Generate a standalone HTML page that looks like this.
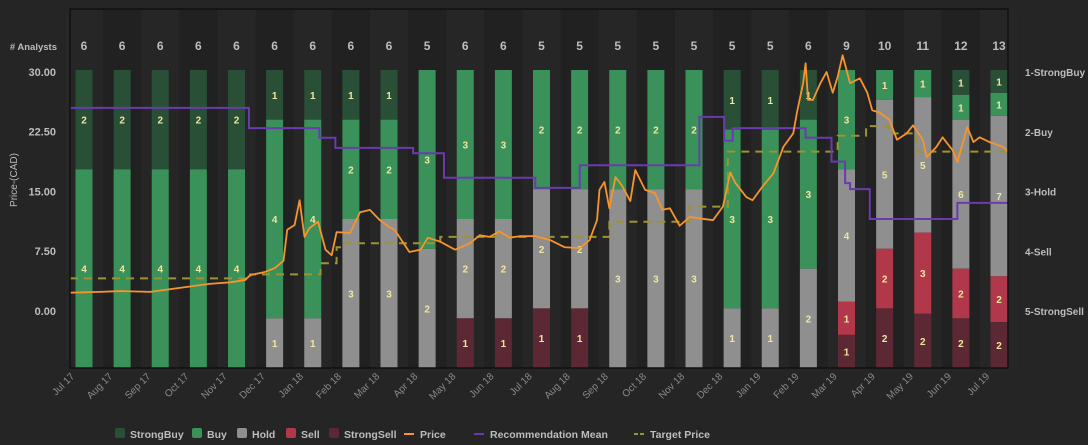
<!DOCTYPE html>
<html><head><meta charset="utf-8"><style>
html,body{margin:0;padding:0;background:#252525;}
svg{display:block;font-family:"Liberation Sans",sans-serif;}
</style></head><body>
<svg id="chart" width="1088" height="445" viewBox="0 0 1088 445"></svg>
<script>
const categories=["Jul 17","Aug 17","Sep 17","Oct 17","Nov 17","Dec 17","Jan 18","Feb 18","Mar 18","Apr 18","May 18","Jun 18","Jul 18","Aug 18","Sep 18","Oct 18","Nov 18","Dec 18","Jan 19","Feb 19","Mar 19","Apr 19","May 19","Jun 19","Jul 19"];
const strongBuy=[2,2,2,2,2,1,1,1,1,0,0,0,0,0,0,0,0,1,1,1,0,0,0,1,1];
const buy=[4,4,4,4,4,4,4,2,2,3,3,3,2,2,2,2,2,3,3,3,3,1,1,1,1];
const hold=[0,0,0,0,0,1,1,3,3,2,2,2,2,2,3,3,3,1,1,2,4,5,5,6,7];
const sell=[0,0,0,0,0,0,0,0,0,0,0,0,0,0,0,0,0,0,0,0,1,2,3,2,2];
const strongSell=[0,0,0,0,0,0,0,0,0,0,1,1,1,1,0,0,0,0,0,0,1,2,2,2,2];
const priceTicks=["0.00","7.50","15.00","22.50","30.00"];
const recTicks=["1-StrongBuy","2-Buy","3-Hold","4-Sell","5-StrongSell"];
const priceDays=[0,24,41,65,89,113,130,142,146,158,166,173,176,182,186,190,194,201,207,212,216,227,235,243,251,259,263,275,284,290,300,312,324,332,340,348,356,365,377,389,401,413,421,427,429,433,437,442,447,454,458,466,474,480,486,494,502,521,529,535,539,548,553,561,570,578,586,589,594,596,598,602,608,613,618,622,626,632,640,646,650,656,664,670,678,683,691,694,702,707,715,719,727,732,737,745,756,760];
const priceVals=[2.3,2.4,2.5,2.4,2.9,3.4,3.6,3.9,4.5,4.9,5.4,6.3,10.2,10.8,13.9,9.3,10.4,11.2,7.7,7.0,9.9,9.8,12.4,12.7,11.4,10.5,10.2,7.4,7.7,9.2,8.7,7.7,8.5,9.5,9.3,10.0,9.2,9.4,9.4,8.9,8.0,7.9,8.9,11.4,15.2,16.2,12.9,16.8,15.8,13.8,17.7,15.2,14.8,12.7,12.9,10.7,11.8,11.4,13.1,17.4,16.1,14.3,13.9,15.6,17.3,20.6,22.3,24.9,28.6,31.1,26.5,26.5,28.6,30.0,27.4,29.4,32.1,28.6,29.2,27.4,25.2,24.9,24.0,21.5,22.3,23.3,21.5,19.3,20.6,21.8,20.2,18.7,23.1,21.2,21.8,21.2,20.6,20.0];
const targetDays=[0,146,203,216,222,300,437,502,533,622,645,663,686,760];
const targetVals=[4.1,4.6,6.0,8.0,8.5,9.3,11.2,13.1,20.0,22.0,23.2,22.3,20.0,20.0];
const recDays=[0,145,202,215,278,303,377,413,510,530,537,596,617,628,632,648,719,760];
const recVals=[1.60,1.94,2.10,2.27,2.36,2.77,2.94,2.56,1.75,2.15,1.94,2.10,2.50,2.86,2.96,3.46,3.19,3.19];

const NS="http://www.w3.org/2000/svg";
const svg=document.getElementById('chart');
function mk(tag,attrs,parent){const e=document.createElementNS(NS,tag);for(const k in attrs)e.setAttribute(k,attrs[k]);(parent||svg).appendChild(e);return e;}
const PL=70,PR=1008,PT=9,PB=368,BARTOP=70;
const n=categories.length;
const slot=(999-84)/(n-1);
const xBar=i=>84+i*slot;
const xDay=d=>PL+d*(PR-PL)/760;
const yPrice=p=>311-p*7.967;
const yRec=r=>72+(r-1)*59.75;

const plotBg=mk('rect',{x:PL,y:PT,width:PR-PL,height:PB-PT,fill:'#212121'});


for(let i=0;i<n;i++){
  const b=mk('rect',{x:xBar(i)-slot/2,y:PT,width:slot,height:PB-PT,fill:i%2?'#212121':'#262626'});
  
  
}
const series=[[strongBuy,'#2a4f37','strongbuy'],[buy,'#3a915a','buy'],[hold,'#8f8f8f','hold'],[sell,'#b0384a','sell'],[strongSell,'#5c2833','strongsell']];
for(let i=0;i<n;i++){
  const tot=series.reduce((s,a)=>s+a[0][i],0);
  let y=BARTOP;
  const cnt=mk('text',{x:xBar(i),y:50,'text-anchor':'middle','font-size':12,'font-weight':'bold',fill:'#bdbdbd'});
  cnt.textContent=tot;
  
  
  for(const [arr,col,nm] of series){
    const v=arr[i];if(!v)continue;
    const h=v/tot*(PB-BARTOP);
    const r=mk('rect',{x:xBar(i)-8.5,y:y,width:17,height:h,fill:col});
    
    
    const t=mk('text',{x:xBar(i),y:y+h/2+4,'text-anchor':'middle','font-size':10,'font-weight':'bold',fill:'#efe6a0'});
    t.textContent=v;
    
    
    y+=h;
  }
}
function stepPath(ds,vs,yf){let d='';for(let i=0;i<ds.length;i++){const x=xDay(ds[i]),y=yf(vs[i]);if(i===0)d+='M'+x+' '+y;else{d+='H'+x+'V'+y;}}return d;}
const tp=mk('path',{d:stepPath(targetDays,targetVals,yPrice),fill:'none',stroke:'#9c9430','stroke-width':2,'stroke-dasharray':'8 6'});


const rp=mk('path',{d:stepPath(recDays,recVals,yRec),fill:'none',stroke:'#6a3bb0','stroke-width':2});


const pp=mk('path',{d:priceDays.map((d,i)=>(i?'L':'M')+xDay(d)+' '+yPrice(priceVals[i])).join(''),fill:'none',stroke:'#f7942d','stroke-width':1.8,'stroke-linejoin':'round'});


const border=mk('rect',{x:PL,y:PT,width:PR-PL,height:PB-PT,fill:'none',stroke:'#111','stroke-width':1.5});



const ah=mk('text',{x:57,y:50,'text-anchor':'end','font-size':9.5,'font-weight':'bold',fill:'#bdbdbd'});
ah.textContent='# Analysts';


priceTicks.forEach((t,i)=>{
  const e=mk('text',{x:56,y:yPrice(i*7.5)+4,'text-anchor':'end','font-size':11,'font-weight':'bold',fill:'#bdbdbd'});
  e.textContent=t;
  
  
});
recTicks.forEach((t,i)=>{
  const e=mk('text',{x:1025,y:yRec(i+1)+4,'font-size':10,'font-weight':'bold',fill:'#bdbdbd'});
  e.textContent=t;
  
  
});
const yt=mk('text',{x:17,y:180,transform:'rotate(-90 17 180)','text-anchor':'middle','font-size':10,fill:'#bdbdbd'});
yt.textContent='Price-(CAD)';


categories.forEach((c,i)=>{
  const x=xBar(i)-9,y=377;
  const e=mk('text',{x:x,y:y,transform:`rotate(-45 ${x} ${y})`,'text-anchor':'end','font-size':10,fill:'#8a8a8a'});
  e.textContent=c;
  
  
});
const leg=[['StrongBuy','#2a4f37',115,'box'],['Buy','#3a915a',192,'box'],['Hold','#8f8f8f',237,'box'],['Sell','#b0384a',286,'box'],['StrongSell','#5c2833',329,'box'],['Price','#f7942d',404,'line'],['Recommendation Mean','#6a3bb0',474,'line'],['Target Price','#9c9430',634,'dash']];
leg.forEach(([t,c,x,k])=>{
  const g=mk('g',{});
  
  
  if(k==='box')mk('rect',{x:x,y:428,width:10,height:10,rx:2,fill:c},g);
  else if(k==='line')mk('line',{x1:x,y1:434,x2:x+10,y2:434,stroke:c,'stroke-width':2},g);
  else mk('line',{x1:x,y1:434,x2:x+10,y2:434,stroke:c,'stroke-width':2,'stroke-dasharray':'4 2'},g);
  const e=mk('text',{x:x+(k==='box'?15:16),y:438,'font-size':10.5,'font-weight':'bold',fill:'#bdbdbd'},g);
  e.textContent=t;
});
</script>
</body></html>
